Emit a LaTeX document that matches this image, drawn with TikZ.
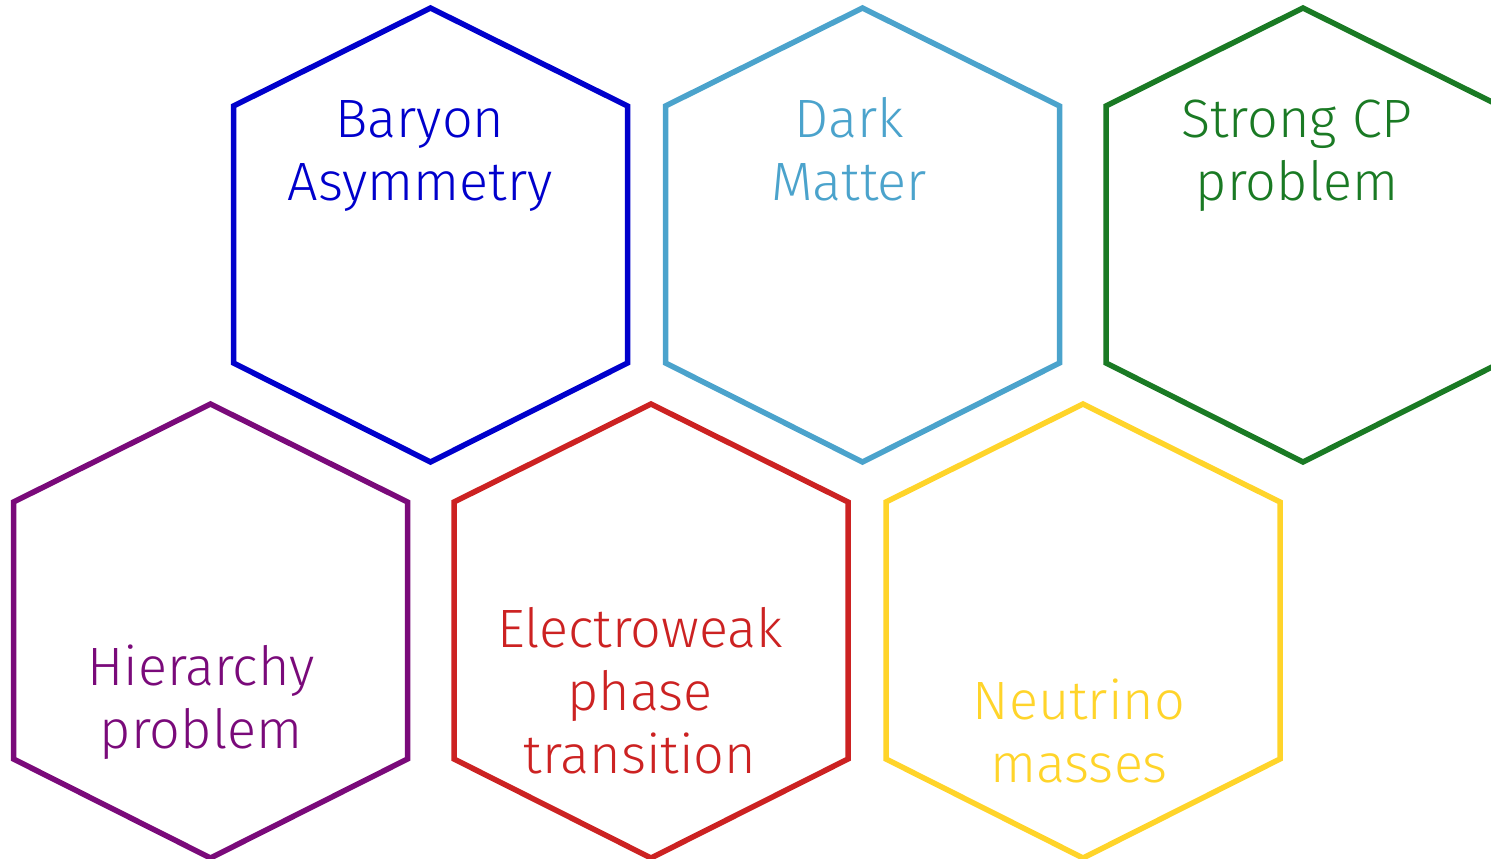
\documentclass[tikz,border=0pt]{standalone}
\usepackage{fontspec}
\setmainfont{Fira Sans}[UprightFont=* Light]
\definecolor{cBaryon}{RGB}{0,0,204}
\definecolor{cDark}{RGB}{75,163,204}
\definecolor{cStrong}{RGB}{26,122,36}
\definecolor{cHier}{RGB}{122,10,122}
\definecolor{cEW}{RGB}{204,34,34}
\definecolor{cNu}{RGB}{255,212,42}
\tikzset{
  hexa/.style={line width=5.5pt, line join=miter},
  lbl/.style={font=\fontsize{54}{63}\selectfont, align=center, anchor=base, inner sep=0pt},
}
% hexagon with top vertex at (#1,#2)
\newcommand{\hexpath}[3]{%
  \draw[hexa,#3] (#1,#2) -- ++(197,98) -- ++(0,257) -- ++(-197,99) -- ++(-197,-99) -- ++(0,-257) -- cycle;}
\begin{document}
\begin{tikzpicture}[x=1pt,y=-1pt]
\useasboundingbox (0,0) rectangle (1491,859);
\clip (0,0) rectangle (1491,859);
\hexpath{430.5}{8}{cBaryon}
\hexpath{862.5}{8}{cDark}
\hexpath{1303}{8}{cStrong}
\hexpath{210.5}{404}{cHier}
\hexpath{651}{404}{cEW}
\hexpath{1083}{404}{cNu}
% labels: the base anchor sits on the last line's baseline
\node[lbl, text=cBaryon] (baryon) at (420,200) {Baryon\\Asymmetry};
\node[lbl, text=cDark] (dark) at (849,200) {Dark\\Matter};
\node[lbl, text=cStrong] (strong) at (1297,200) {Strong CP\\problem};
\node[lbl, text=cHier] (hier) at (201,748) {Hierarchy\\problem};
\node[lbl, text=cEW] (ew) at (640,773) {Electroweak\\phase\\transition};
\node[lbl, text=cNu] (nu) at (1079,782) {Neutrino\\masses};
\end{tikzpicture}
\end{document}
